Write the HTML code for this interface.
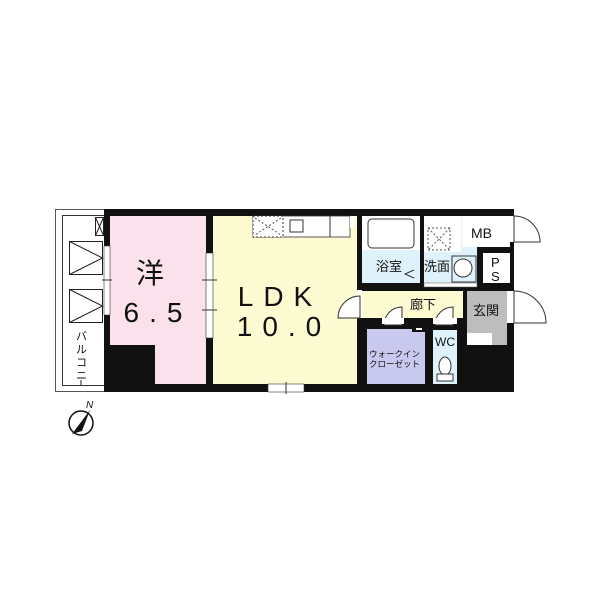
<!DOCTYPE html>
<html><head><meta charset="utf-8"><style>
html,body{margin:0;padding:0;background:#fff;width:600px;height:600px;overflow:hidden}
svg{display:block}
text{font-family:"Liberation Sans","Noto Sans CJK JP",sans-serif;fill:#111}
</style></head><body>
<svg width="600" height="600" viewBox="0 0 600 600">
<!-- balcony -->
<rect x="55.5" y="209.5" width="50" height="182" fill="#fff" stroke="#555"/>
<rect x="62.5" y="215.5" width="42" height="170" fill="#fff" stroke="#333"/>
<rect x="95.5" y="217.5" width="8" height="18" fill="#fff" stroke="#222"/>
<path d="M95.5 217.5L103.5 235.5M103.5 217.5L95.5 235.5" stroke="#222"/>
<rect x="69.5" y="241.5" width="33" height="33" fill="#fff" stroke="#222"/>
<path d="M69.5 241.5L102.5 258L69.5 274.5" fill="none" stroke="#222"/>
<rect x="69.5" y="289.5" width="33" height="33" fill="#fff" stroke="#222"/>
<path d="M69.5 289.5L102.5 306L69.5 322.5" fill="none" stroke="#222"/>
<text x="76" y="340" font-size="11">バ</text>
<text x="76" y="353" font-size="11">ル</text>
<text x="76" y="366" font-size="11">コ</text>
<text x="76" y="379" font-size="11">ニ</text>
<path d="M81 380V386" stroke="#222"/>
<!-- main black outer -->
<rect x="104" y="209" width="410" height="183" fill="#111"/>
<!-- western room -->
<rect x="110" y="216" width="96" height="168" fill="#fbe1ec"/>
<rect x="110" y="345" width="45" height="39" fill="#111"/>
<!-- LDK -->
<rect x="213" y="216" width="144" height="168" fill="#fdfbd1"/>
<rect x="253" y="216" width="97" height="21" fill="#fff" stroke="#333" stroke-width="0.8"/>
<rect x="253" y="216" width="30" height="21" fill="#fff" stroke="#333" stroke-dasharray="2,2"/>
<path d="M255 218L281 235M281 218L255 235" stroke="#555" stroke-dasharray="2,2"/>
<rect x="290" y="220" width="13" height="12" fill="#fff" stroke="#333"/>
<path d="M330 216V237" stroke="#333"/>
<rect x="350" y="216" width="4" height="12" fill="#fff"/>
<!-- windows in walls -->
<rect x="104" y="246" width="6" height="69" fill="#fff" stroke="#333" stroke-width="0.6"/>
<path d="M102 280H112" stroke="#333"/>
<rect x="206" y="253" width="7" height="85" fill="#fff" stroke="#333" stroke-width="0.6"/>
<path d="M202 280H217M202 310H217" stroke="#333"/>
<rect x="268" y="384" width="36" height="8" fill="#fff" stroke="#333" stroke-width="0.6"/>
<path d="M286 382V394" stroke="#333"/>
<!-- bath -->
<rect x="362" y="216" width="58" height="67" fill="#dff1fb"/>
<rect x="362" y="216" width="58" height="34" fill="#fff"/>
<rect x="368" y="219" width="46" height="29" rx="4" fill="#fff" stroke="#333"/>
<path d="M414 270L405 274L414 278" fill="none" stroke="#333"/>
<text x="376" y="271" font-size="13">浴室</text>
<!-- wash -->
<rect x="424" y="216" width="53" height="71" fill="#dff1fb"/>
<rect x="424" y="216" width="37" height="36" fill="#fff"/>
<rect x="428" y="228" width="22" height="22" fill="#fff" stroke="#555" stroke-dasharray="2,2"/>
<path d="M428 228L450 250M450 228L428 250" stroke="#555" stroke-dasharray="2,2"/>
<text x="424" y="271" font-size="13">洗面</text>
<rect x="452" y="256" width="24" height="26" fill="#dff1fb" stroke="#333"/>
<circle cx="463" cy="268" r="9" fill="#fff" stroke="#333"/>
<rect x="424" y="283" width="53" height="4" fill="#fff" stroke="#555" stroke-width="0.5"/>
<!-- MB / PS -->
<rect x="462" y="216" width="48" height="31" fill="#fff"/>
<text x="471" y="238" font-size="14">MB</text>
<rect x="483" y="253" width="27" height="30" fill="#fff"/>
<text x="491" y="267" font-size="13">P</text>
<text x="491" y="281" font-size="13">S</text>
<!-- hallway -->
<rect x="362" y="291" width="101" height="27" fill="#fdfbd1"/>
<rect x="357" y="290" width="5" height="28" fill="#fff"/>
<path d="M338 318A22 22 0 0 1 360 296V318Z" fill="#fff" stroke="#333"/>
<path d="M384 325A18 18 0 0 1 402 307V325Z" fill="#fff" stroke="#333"/>
<rect x="382" y="318" width="22" height="6" fill="#fff"/>
<path d="M435 325A18 18 0 0 1 453 307V325Z" fill="#fff" stroke="#333"/>
<rect x="433" y="318" width="24" height="6" fill="#fff"/>
<text x="410" y="309" font-size="13">廊下</text>
<!-- genkan -->
<rect x="467" y="291" width="40" height="54" fill="#bdbdbd"/>
<rect x="467" y="333" width="25" height="12" fill="#fff"/>
<text x="473" y="315" font-size="13">玄関</text>
<!-- walk-in -->
<rect x="367" y="329" width="58" height="55" fill="#c9c9ef"/>
<rect x="412" y="326" width="13" height="6" fill="#111"/>
<rect x="416" y="328" width="6" height="2" fill="#fff"/>
<text x="369" y="357" font-size="8.5">ウォークイン</text>
<text x="369" y="367" font-size="8.5">クローゼット</text>
<!-- WC -->
<rect x="433" y="330" width="24" height="54" fill="#dff1fb"/>
<text x="435" y="346" font-size="12">WC</text>
<ellipse cx="445" cy="366" rx="6" ry="9" fill="#fff" stroke="#333"/>
<rect x="437" y="374" width="16" height="7" fill="#fff" stroke="#333"/>
<!-- right doors -->
<rect x="510" y="216" width="4" height="26" fill="#fff"/>
<path d="M514 216A26 26 0 0 1 540 242H514Z" fill="#fff" stroke="#333"/>
<rect x="507" y="291" width="7" height="32" fill="#fff"/>
<path d="M514 291A32 32 0 0 1 546 323H514Z" fill="#fff" stroke="#333"/>
<!-- big labels -->
<text x="150" y="283" font-size="28" text-anchor="middle">洋</text>
<text x="158" y="322" font-size="28" text-anchor="middle" letter-spacing="10">6.5</text>
<text x="280" y="306" font-size="28" text-anchor="middle" letter-spacing="10">LDK</text>
<text x="284" y="336" font-size="28" text-anchor="middle" letter-spacing="10">10.0</text>
<!-- compass -->
<circle cx="81" cy="423" r="12" fill="#fff" stroke="#111" stroke-width="1.5"/>
<path d="M90 410L72 434L82 431Z" fill="#111"/>
<text x="86" y="408" font-size="10" font-style="italic">N</text>
</svg>
</body></html>
